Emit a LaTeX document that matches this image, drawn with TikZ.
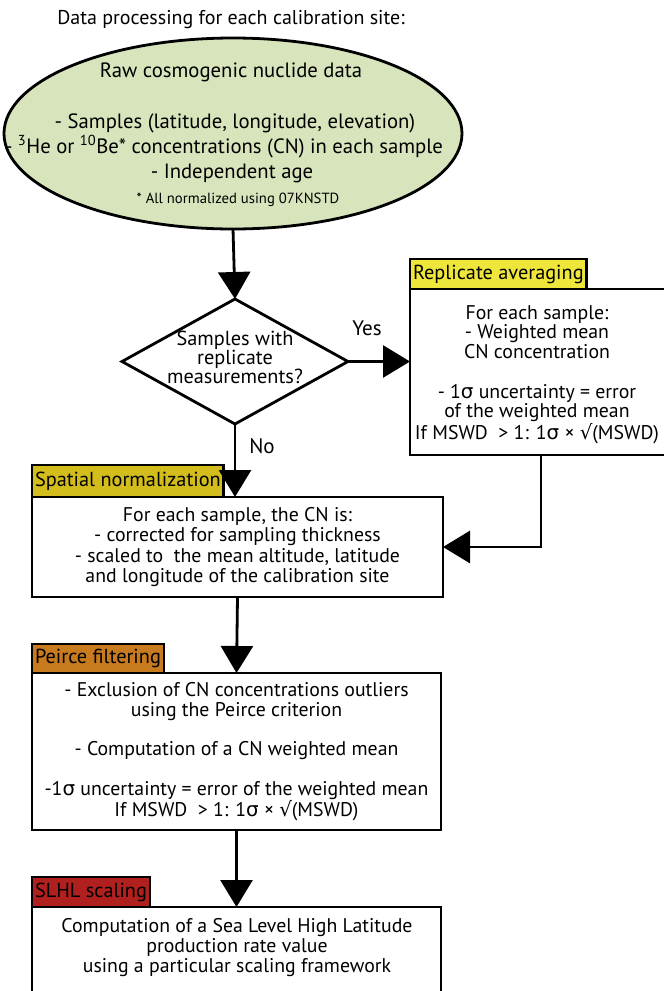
\documentclass[tikz,border=0pt]{standalone}
\usepackage{fontspec}
\setmainfont{PT Sans}
\newfontfamily\dvs{DejaVu Sans}
\usetikzlibrary{arrows.meta,shapes.geometric}
\definecolor{ellfill}{HTML}{D8E4BC}
\definecolor{tabrep}{HTML}{EEE63A}
\definecolor{tabspat}{HTML}{D2BD1D}
\definecolor{tabpeirce}{HTML}{C87A1E}
\definecolor{tabslhl}{HTML}{B0201E}
\newcommand{\sig}{{\dvs σ}}
\newcommand{\sqr}{{\dvs √}}
\begin{document}
\begin{tikzpicture}[x=1pt,y=-1pt,
  line width=2.8pt,
  every node/.style={outer sep=0pt},
  arr/.style={-{Triangle[length=27pt,width=32pt]}},
  mainbox/.style={draw, fill=white, rectangle, inner sep=0pt, align=center,
    font=\fontsize{19.8}{19.7}\selectfont},
  tabbox/.style={draw, rectangle, anchor=south west, minimum height=30pt,
    inner xsep=3pt, inner ysep=0pt, font=\fontsize{20.3}{21}\selectfont},
  txt/.style={align=center, inner sep=0pt, font=\fontsize{19.8}{19.7}\selectfont}
]
\useasboundingbox (0,0) rectangle (664,991);

% title
\node[txt, font=\fontsize{20}{22}\selectfont, anchor=base] (title) at (231,24) {Data processing for each calibration site:};

% ellipse
\node[ellipse, draw, fill=ellfill, inner sep=0pt, minimum width=458pt, minimum height=191pt] (raw) at (233,133.5) {};
\node[txt, font=\fontsize{20.7}{25}\selectfont, anchor=base] (rawt) at (231,77) {Raw cosmogenic nuclide data};
\node[txt, font=\fontsize{20.7}{25}\selectfont, anchor=base] (rawa) at (235,128) {- Samples (latitude, longitude, elevation)};
\node[txt, font=\fontsize{20.7}{25}\selectfont, anchor=base] (rawb) at (224,153) {- \textsuperscript{3}He or \textsuperscript{10}Be* concentrations (CN) in each sample};
\node[txt, font=\fontsize{20.7}{25}\selectfont, anchor=base] (rawc) at (232,178) {- Independent age};
\node[txt, font=\fontsize{14.7}{16}\selectfont, anchor=base] (rawd) at (238,203) {* All normalized using 07KNSTD};

% decision
\node[diamond, draw, inner sep=0pt, minimum width=226pt, minimum height=125pt] (dia) at (235,361.5) {};
\node[txt, font=\fontsize{20.3}{19}\selectfont, anchor=base] (diat) at (235,383) {Samples with\\replicate\\measurements?};
\node[txt, font=\fontsize{21}{22}\selectfont, anchor=base] (yes) at (367,335) {Yes};
\node[txt, font=\fontsize{21}{22}\selectfont, anchor=base] (no) at (262,453) {No};

% replicate averaging
\node[mainbox, minimum width=258pt, minimum height=166pt] (rep) at (539,372) {};
\node[txt, anchor=base] (rept) at (537,439)
  {For each sample:\\- Weighted mean\\CN concentration\\[19.7pt]- 1\sig\ uncertainty = error\\of the weighted mean\\If MSWD \ > 1: 1\sig\ × \sqr(MSWD)};
\node[tabbox, fill=tabrep] (reptab) at (rep.north west) {Replicate averaging};

% spatial normalization
\node[mainbox, minimum width=411pt, minimum height=100pt, font=\fontsize{19.8}{20.3}\selectfont] (spat) at (237.5,547)
  {For each sample, the CN is:\\- corrected for sampling thickness\\- scaled to \ the mean altitude, latitude\\and longitude of the calibration site};
\node[tabbox, fill=tabspat, minimum height=32pt] (spattab) at (spat.north west) {Spatial normalization};

% Peirce filtering
\node[mainbox, minimum width=409pt, minimum height=157pt] (peirce) at (236.5,751.5)
  {- Exclusion of CN concentrations outliers\\using the Peirce criterion\\[19.7pt]- Computation of a CN weighted mean\\[19.7pt]-1\sig\ uncertainty = error of the weighted mean\\If MSWD \ > 1: 1\sig\ × \sqr(MSWD)};
\node[tabbox, fill=tabpeirce, minimum height=29pt] (peircetab) at (peirce.north west) {Peirce filtering};

% SLHL scaling
\node[mainbox, minimum width=409pt, minimum height=96pt] (slhl) at (236.5,955) {};
\node[txt, anchor=base] (slhlt) at (237,972)
  {Computation of a Sea Level High Latitude\\production rate value\\using a particular scaling framework};
\node[tabbox, fill=tabslhl, minimum height=30pt] (slhltab) at (slhl.north west) {SLHL scaling};

% connectors
\draw[arr] (raw.south) -- (dia.north);
\draw[arr] (dia.east) -- (dia.east -| rep.west);
\draw[arr] (dia.south) -- (dia.south |- spat.north);
\draw[arr] ([xshift=2pt]rep.south) |- (spat.east);
\draw[arr] (spat.south) -- (peirce.north);
\draw[arr] (peirce.south) -- (slhl.north);
\end{tikzpicture}
\end{document}
